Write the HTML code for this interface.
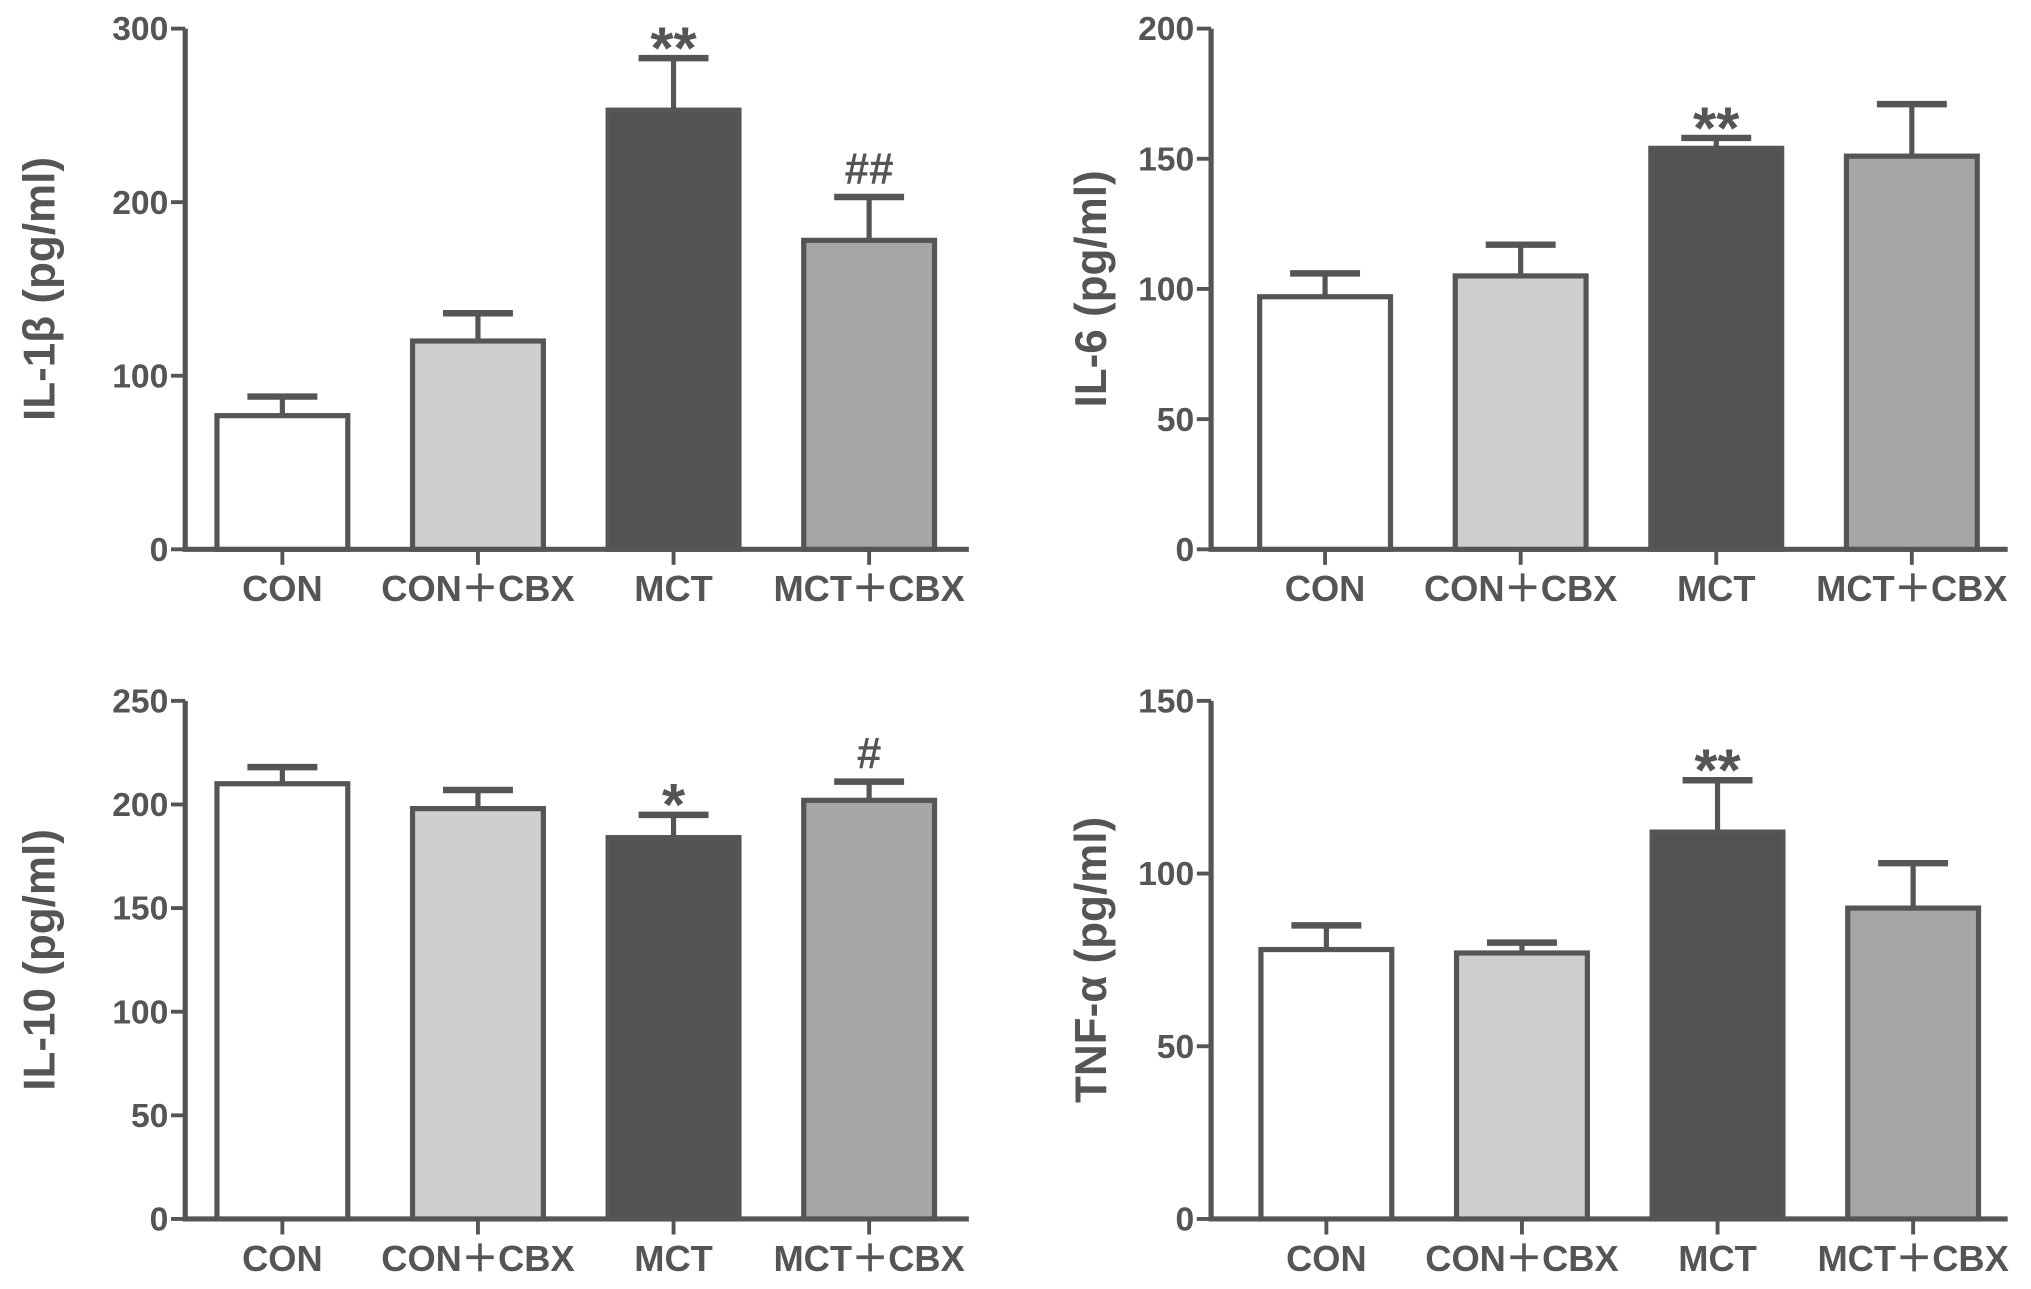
<!DOCTYPE html>
<html><head><meta charset="utf-8"><style>
html,body{margin:0;padding:0;background:#fff;}
svg{display:block;}
text{font-family:"Liberation Sans",sans-serif;fill:#555;}
</style></head><body>
<svg id="fig" width="2031" height="1289" viewBox="0 0 1568 995" xmlns="http://www.w3.org/2000/svg"></svg>
<script>
const categories = ["CON","CON\uFF0BCBX","MCT","MCT\uFF0BCBX"];
const il1bValues = [77,120,253,178];
const il1bErrors = [88,136,283,203];
const il1bMarks = ["","","**","##"];
const il6Values = [97,105,154,151];
const il6Errors = [106,117,158,171];
const il6Marks = ["","","**",""];
const il10Values = [210,198,184,202];
const il10Errors = [218,207,195,211];
const il10Marks = ["","","*","#"];
const tnfValues = [78,77,112,90];
const tnfErrors = [85,80,127,103];
const tnfMarks = ["","","**",""];
const il1bTicks = [0,100,200,300];
const il6Ticks = [0,50,100,150,200];
const il10Ticks = [0,50,100,150,200,250];
const tnfTicks = [0,50,100,150];

const NS="http://www.w3.org/2000/svg";
const svg=document.getElementById('fig');
const fills=["#ffffff","#cfcfcf","#525252","#a6a6a6"];
const stroke="#555";
function mk(tag,attrs,parent){const e=document.createElementNS(NS,tag);for(const k in attrs)e.setAttribute(k,attrs[k]);(parent||svg).appendChild(e);return e;}

function panel(name,ax,off,axEnd,y0,y1,ymax,ticks,vals,errs,marks,label,labelX){
  const g=mk('g',{});
  
  
  const yS=v=>y0-(v/ymax)*(y0-y1);
  const xC=i=>ax+off+i*151;
  const bw=101;
  const ya=mk('line',{x1:ax,y1:y1,x2:ax,y2:y0+1,stroke:stroke,'stroke-width':4},g);
  
  
  ticks.forEach(t=>{
    mk('line',{x1:ax-11,y1:yS(t),x2:ax,y2:yS(t),stroke:stroke,'stroke-width':3},g);
    const tl=mk('text',{x:ax-13,y:yS(t)+9,'text-anchor':'end','font-size':26,'font-weight':'bold'},g);
    tl.textContent=t;
    
    
  });
  const xa=mk('line',{x1:ax-2,y1:y0,x2:axEnd,y2:y0,stroke:stroke,'stroke-width':4},g);
  
  
  vals.forEach((v,i)=>{
    const cx=xC(i);
    mk('line',{x1:cx,y1:y0,x2:cx,y2:y0+12,stroke:stroke,'stroke-width':3},g);
    mk('line',{x1:cx,y1:yS(v),x2:cx,y2:yS(errs[i]),stroke:stroke,'stroke-width':4},g);
    mk('line',{x1:cx-27,y1:yS(errs[i]),x2:cx+27,y2:yS(errs[i]),stroke:stroke,'stroke-width':5},g);
    const b=mk('rect',{x:cx-bw/2,y:yS(v),width:bw,height:y0-yS(v),fill:fills[i],stroke:stroke,'stroke-width':4},g);
    
    
    const cl=mk('text',{x:cx,y:y0+40,'text-anchor':'middle','font-size':28,'font-weight':'bold'},g);
    cl.textContent=categories[i];
    
    
    if(marks[i]){
      const isHash=marks[i][0]=='#';
      const m=mk('text',{x:cx,y:yS(errs[i])-(isHash?10:-8),'text-anchor':'middle','font-size':isHash?34:46,'font-weight':'bold'},g);
      m.textContent=marks[i];
      
      
    }
  });
  const yl=mk('text',{x:0,y:0,'text-anchor':'middle','font-size':34,'font-weight':'bold',transform:`translate(${labelX},${(y0+y1)/2}) rotate(-90)`},g);
  yl.textContent=label;
  
  
}
panel('il-1b',143,75,748,424,22,300,il1bTicks,il1bValues,il1bErrors,il1bMarks,'IL-1\u03B2  (pg/ml)',42);
panel('il-6',935,88,1550,424,22,200,il6Ticks,il6Values,il6Errors,il6Marks,'IL-6 (pg/ml)',854);
panel('il-10',143,75,748,941,541,250,il10Ticks,il10Values,il10Errors,il10Marks,'IL-10 (pg/ml)',42);
panel('tnf-a',935,89,1550,941,541,150,tnfTicks,tnfValues,tnfErrors,tnfMarks,'TNF-\u03B1  (pg/ml)',854);
</script>
</body></html>
